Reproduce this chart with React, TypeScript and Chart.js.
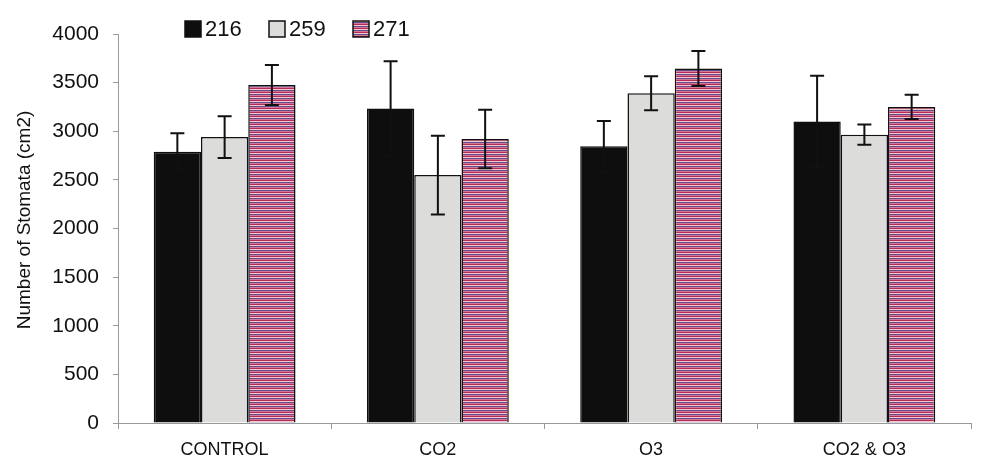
import React, { useEffect, useRef } from "react";
import { Chart, registerables } from "chart.js";

Chart.register(...registerables);

const categories = ["CONTROL", "CO2", "O3", "CO2 & O3"];
const seriesLabels = ["216", "259", "271"];
const values216 = [2790, 3235, 2845, 3100];
const values259 = [2940, 2550, 3390, 2965];
const values271 = [3475, 2920, 3645, 3250];
const err216 = [190, 485, 260, 470];
const err259 = [215, 405, 175, 105];
const err271 = [205, 300, 180, 125];
const yTicks = [0, 500, 1000, 1500, 2000, 2500, 3000, 3500, 4000];
const yTitle = "Number of Stomata (cm2)";

const FONT = "'Liberation Sans', Arial, sans-serif";

function makeStripePattern(): CanvasPattern | string {
  const c = document.createElement("canvas");
  c.width = 4;
  c.height = 4;
  const g = c.getContext("2d");
  if (!g) return "#c07090";
  const rows = ["#b82a52", "#f2cad6", "#5c4e8c", "#d67898"];
  rows.forEach((col, i) => {
    g.fillStyle = col;
    g.fillRect(0, i, 4, 1);
  });
  const p = g.createPattern(c, "repeat");
  return p || "#c07090";
}

export default function App() {
  const ref = useRef<HTMLCanvasElement | null>(null);

  useEffect(() => {
    if (!ref.current) return;
    const stripe = makeStripePattern();
    const errs = [err216, err259, err271];

    const errorBars = {
      id: "errorBars",
      afterDatasetsDraw(chart: any) {
        const ctx = chart.ctx;
        const y = chart.scales.y;
        ctx.save();
        ctx.strokeStyle = "#111";
        ctx.lineWidth = 2;
        chart.data.datasets.forEach((ds: any, di: number) => {
          const meta = chart.getDatasetMeta(di);
          meta.data.forEach((el: any, i: number) => {
            const v = ds.data[i];
            const e = errs[di][i];
            const yt = y.getPixelForValue(v + e);
            const yb = y.getPixelForValue(v - e);
            const cap = 7;
            ctx.beginPath();
            ctx.moveTo(el.x, yt);
            ctx.lineTo(el.x, yb);
            ctx.moveTo(el.x - cap, yt);
            ctx.lineTo(el.x + cap, yt);
            ctx.moveTo(el.x - cap, yb);
            ctx.lineTo(el.x + cap, yb);
            ctx.stroke();
          });
        });
        ctx.restore();
      },
    };

    const customLegend = {
      id: "customLegend",
      afterDraw(chart: any) {
        const ctx = chart.ctx;
        ctx.save();
        const startX = 185;
        const step = 84;
        const cy = 29;
        ctx.font = `22px ${FONT}`;
        ctx.textBaseline = "middle";
        ctx.textAlign = "left";
        chart.data.datasets.forEach((ds: any, i: number) => {
          const x = startX + i * step;
          const size = 16;
          ctx.fillStyle = ds.backgroundColor;
          ctx.fillRect(x, cy - size / 2, size, size);
          ctx.strokeStyle = "#111";
          ctx.lineWidth = 1.5;
          ctx.strokeRect(x, cy - size / 2, size, size);
          ctx.fillStyle = "#111";
          ctx.fillText(ds.label, x + size + 4, cy + 1);
        });
        ctx.restore();
      },
    };

    const axisTitle = {
      id: "axisTitle",
      afterDraw(chart: any) {
        const ctx = chart.ctx;
        ctx.save();
        ctx.translate(25, 220);
        ctx.rotate(-Math.PI / 2);
        ctx.font = `19px ${FONT}`;
        ctx.fillStyle = "#111";
        ctx.textAlign = "center";
        ctx.textBaseline = "middle";
        ctx.fillText(yTitle, 0, 0);
        ctx.restore();
      },
    };

    const chart = new Chart(ref.current, {
      type: "bar",
      data: {
        labels: categories,
        datasets: [
          {
            label: seriesLabels[0],
            data: values216,
            backgroundColor: "#0e0e0e",
            borderColor: "#0e0e0e",
            borderWidth: 1.5,
          },
          {
            label: seriesLabels[1],
            data: values259,
            backgroundColor: "#dcdcda",
            borderColor: "#111",
            borderWidth: 1.5,
          },
          {
            label: seriesLabels[2],
            data: values271,
            backgroundColor: stripe as any,
            borderColor: "#111",
            borderWidth: 1.5,
          },
        ],
      },
      options: {
        responsive: false,
        animation: false,
        devicePixelRatio: 1,
        layout: { padding: { top: 34, right: 10, bottom: 0, left: 0 } },
        datasets: {
          bar: { categoryPercentage: 0.665, barPercentage: 1.0 },
        },
        plugins: {
          legend: { display: false },
          tooltip: { enabled: false },
          title: { display: false },
        },
        scales: {
          x: {
            type: "category",
            offset: true,
            grid: {
              display: true,
              drawOnChartArea: false,
              drawTicks: true,
              tickLength: 6,
              color: "#999",
              offset: true,
            },
            border: { display: true, color: "#999", width: 1 },
            ticks: {
              font: { family: FONT, size: 18 },
              color: "#111",
              padding: 10,
            },
            afterFit: (s: any) => {
              s.height = 53;
            },
          },
          y: {
            min: 0,
            max: 4000,
            afterBuildTicks: (s: any) => {
              s.ticks = yTicks.map((v) => ({ value: v }));
            },
            grid: {
              drawOnChartArea: false,
              drawTicks: true,
              tickLength: 5,
              color: "#999",
            },
            border: { display: true, color: "#999", width: 1 },
            ticks: {
              font: { family: FONT, size: 21 },
              color: "#111",
              padding: 14,
              callback: (v: any) => String(v),
            },
            afterFit: (s: any) => {
              s.width = 118;
            },
          },
        },
      },
      plugins: [errorBars, customLegend, axisTitle],
    });

    return () => chart.destroy();
  }, []);

  return (
    <div style={{ position: "absolute", left: 0, top: 0, width: 981, height: 476, background: "#fff" }}>
      <canvas ref={ref} width={981} height={476} style={{ display: "block" }} />
    </div>
  );
}
